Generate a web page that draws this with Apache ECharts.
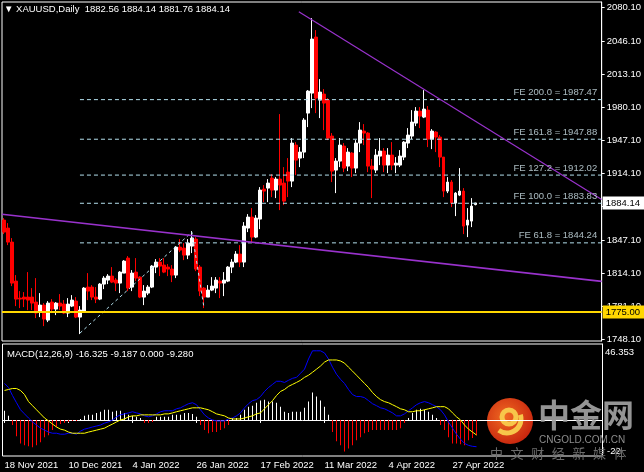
<!DOCTYPE html>
<html lang="en">
<head>
<meta charset="UTF-8" />
<title>XAUUSD Daily</title>
<script src="https://cdn.jsdelivr.net/npm/echarts@6/dist/echarts.min.js"></script>
<style>
  html, body { margin: 0; padding: 0; background: #000; }
  #chart { width: 644px; height: 472px; }
</style>
</head>
<body>
<div id="chart"></div>
<script>
// daily bars, 18 Nov 2021 .. 5 May 2022
const opens = [1867,1859,1845,1806,1789,1790,1790,1790,1785,1775,1782,1767,1785,1778,1784,1783,1774,1781,1786,1770,
  1776,1800,1800,1790,1788,1803,1807,1811,1807,1804,1814,1829,1800,1815,1810,1790,1794,1800,1820,1825,
  1822,1820,1818,1812,1840,1839,1832,1841,1848,1820,1799,1790,1797,1799,1806,1804,1806,1820,1825,1833,
  1825,1859,1870,1850,1868,1898,1899,1909,1897,1908,1904,1915,1906,1942,1929,1935,1974,1994,2050,1987,
  1993,1987,1951,1917,1926,1941,1921,1934,1919,1944,1956,1954,1921,1917,1931,1936,1922,1932,1922,1922,
  1930,1944,1951,1964,1976,1970,1977,1948,1955,1950,1930,1896,1905,1884,1892,1896,1862,1866,1882.56];
const highs = [1869,1864,1849,1812,1796,1795,1815,1799,1809,1794,1784,1786,1788,1785,1793,1787,1789,1792,1790,1781,
  1800,1814,1802,1800,1804,1811,1813,1820,1809,1816,1827,1831,1817,1829,1811,1802,1802,1822,1828,1829,
  1829,1823,1822,1841,1848,1844,1848,1856,1850,1822,1800,1802,1810,1810,1810,1815,1821,1828,1836,1842,
  1865,1873,1879,1872,1900,1902,1908,1913,1910,1973,1920,1929,1949,1945,1940,1969,1997,2069,2057,2008,
  1998,1989,1954,1929,1949,1944,1939,1935,1947,1965,1963,1955,1928,1938,1949,1939,1939,1945,1930,1937,
  1946,1959,1977,1980,1980,1997,1981,1958,1956,1952,1930,1910,1907,1895,1919,1899,1879,1889,1884.14];
const lows = [1853,1842,1801,1781,1779,1780,1777,1777,1769,1770,1761,1765,1774,1772,1777,1773,1770,1780,1769,1753,
  1776,1787,1787,1784,1787,1798,1803,1804,1796,1794,1814,1796,1796,1806,1789,1782,1792,1799,1814,1811,
  1814,1811,1805,1809,1835,1827,1828,1834,1816,1791,1779,1790,1796,1794,1789,1791,1805,1814,1824,1820,
  1820,1855,1845,1849,1858,1885,1885,1890,1889,1877,1882,1890,1900,1912,1920,1929,1960,1979,1974,1969,
  1957,1947,1905,1894,1920,1915,1916,1910,1914,1935,1942,1915,1889,1914,1922,1915,1914,1917,1914,1920,
  1927,1939,1948,1961,1959,1969,1940,1938,1935,1920,1890,1894,1880,1871,1891,1853,1850,1860,1881.76];
const closes = [1855,1845,1804,1788,1788,1788,1787,1784,1774,1782,1768,1784,1778,1784,1781,1774,1783,1787,1770,1777,
  1799,1796,1790,1788,1803,1809,1811,1805,1804,1815,1826,1799,1814,1809,1790,1796,1800,1821,1825,1821,
  1815,1818,1812,1840,1837,1832,1844,1849,1818,1796,1790,1797,1801,1807,1804,1807,1820,1825,1833,1825,
  1861,1870,1850,1869,1897,1896,1904,1897,1908,1902,1886,1906,1944,1927,1935,1967,1996,2048,1989,1995,
  1984,1949,1916,1926,1942,1919,1935,1919,1944,1957,1954,1921,1918,1932,1936,1922,1932,1922,1924,1931,
  1945,1952,1965,1976,1971,1978,1948,1956,1950,1930,1896,1905,1884,1894,1896,1861,1867,1881,1884.14];

// MACD(12,26,9) panel
const macdMain = [22.3,19.8,14.9,10.5,6.2,3.7,1.2,-1.2,-3.1,-5.0,-6.2,-7.4,-8.1,-8.1,-8.7,-8.7,-8.1,-8.1,-8.7,-6.8,
  -5.6,-5.0,-4.3,-3.7,-3.1,-1.9,-1.2,0,1.9,3.1,3.7,4.3,5.0,4.3,3.7,2.5,1.9,2.5,3.7,5.0,
  5.6,5.6,5.6,6.8,7.4,8.7,9.9,10.5,9.3,6.2,3.1,1.2,0,-0.6,-0.6,-0.6,0.6,1.2,2.5,4.3,
  7.4,9.9,11.8,12.4,14.3,17.4,19.8,21.7,23.6,23.6,22.9,24.2,25.4,26.0,28.5,31.0,37.2,42.2,42.2,42.2,
  40.9,37.2,32.2,27.9,24.8,22.3,18.6,15.5,14.3,14.3,13.6,11.8,9.9,8.7,7.4,6.8,5.6,4.3,2.5,2.5,
  3.7,5.6,7.4,9.3,10.5,11.2,10.5,9.3,8.1,6.2,3.1,-1.2,-5.0,-8.7,-11.8,-14.3,-15.5,-16.1,-16.325];
const macdSignal = [18.0,18.6,19.2,19.2,18.0,15.5,11.2,8.7,6.2,3.7,1.2,-0.6,-2.5,-4.3,-5.6,-6.2,-7.4,-8.1,-8.1,-8.1,
  -8.1,-7.4,-6.8,-6.2,-5.6,-5.0,-3.7,-2.5,-1.2,0,0.6,1.9,2.5,2.5,3.1,3.1,3.1,3.1,3.1,3.1,
  3.7,3.7,4.3,5.0,5.6,6.2,6.8,7.4,7.4,7.4,6.8,6.2,5.0,3.7,3.1,2.5,1.2,0.6,0.6,0.6,
  1.2,1.9,2.5,3.7,4.3,6.8,9.3,11.8,14.9,17.4,18.6,20.5,21.7,22.9,24.2,26.0,27.3,29.1,31.0,32.9,
  35.3,36.6,36.6,36.6,36.0,34.7,32.2,29.8,27.3,24.8,22.3,19.8,16.7,14.3,12.4,11.2,10.5,9.3,8.1,6.8,
  6.2,5.0,5.0,5.6,5.6,6.2,6.8,7.4,8.1,8.1,8.1,6.8,4.3,1.9,0,-3.1,-5.6,-7.4,-9.187];
const macdHist = [5.6,2.5,-3.1,-9.9,-14.3,-15.5,-16.1,-16.7,-15.5,-13.6,-10.5,-9.3,-6.2,-4.3,-2.5,-1.9,-1.2,-0.6,-0.6,0.6,
  2.5,3.1,3.1,4.3,5.0,6.2,6.2,5.0,5.6,5.6,4.3,3.1,2.5,1.9,1.2,-1.9,-1.9,-1.2,1.9,1.9,
  1.9,1.9,3.1,3.1,3.1,4.3,4.3,3.7,1.9,-3.1,-6.2,-8.1,-7.4,-7.4,-6.2,-5.0,-3.1,1.2,1.2,3.1,
  6.2,8.1,8.7,10.5,11.8,12.4,11.2,11.2,10.5,8.1,5.0,4.3,5.0,5.0,5.0,7.4,11.2,16.7,14.3,11.8,
  8.1,3.1,-7.4,-13.0,-15.5,-19.2,-17.4,-15.5,-12.4,-10.5,-8.1,-7.4,-6.2,-6.2,-6.2,-6.2,-6.2,-6.2,-6.2,-5.0,
  -1.9,1.2,4.3,6.2,6.8,6.2,5.0,3.1,1.2,-3.1,-6.2,-10.5,-14.3,-14.3,-14.9,-15.5,-12.4,-11.0,-9.28];

const priceTicks = [2080.1,2046.1,2013.1,1980.1,1947.1,1914.1,1881.1,1847.1,1814.1,1781.1,1748.1];
const macdMax = 46.353, macdMin = -22;
const dateTicks = {1:'18 Nov 2021',17:'10 Dec 2021',33:'4 Jan 2022',49:'26 Jan 2022',
  65:'17 Feb 2022',81:'11 Mar 2022',97:'4 Apr 2022',113:'27 Apr 2022'};

// drawing objects (bar number, price)
const feLevels = [['200.0',1987.47],['161.8',1947.88],['127.2',1912.02],['100.0',1883.83],['61.8',1844.24]];
const fePoints = [[20,1754],[48,1855],[51,1780]];
const trendLow = [[0.5,1872.9],[150.5,1805.7]];
const trendHigh = [[74.75,2075.4],[150.5,1887.6]];
const supportLevel = 1775.0;

const FONT = "'Liberation Sans', Arial, sans-serif";
const slots = Array.from({length: 150}, (_, i) => i + 1);
const last = opens.length - 1;
const candles = opens.map((o, i) => [o, closes[i], lows[i], highs[i]]);
const isDateTick = (idx) => dateTicks[idx + 1] !== undefined;
const txt = {color: '#fff', fontSize: 9.5, fontFamily: FONT};

const chart = echarts.init(document.getElementById('chart'));

const feSeries = feLevels.map(([pct, lvl]) => ({
  type: 'line', xAxisIndex: 1, yAxisIndex: 0, z: 3,
  data: [[fePoints[0][0], lvl], [150.5, lvl]],
  symbol: 'none',
  lineStyle: {color: '#b4e0ee', width: 1, type: [4, 3]}
}));

const feLabels = {
  type: 'scatter', xAxisIndex: 1, yAxisIndex: 0, z: 4,
  symbol: 'rect', symbolSize: 1,
  itemStyle: {color: 'transparent'},
  data: feLevels.map(([pct, lvl]) => ({
    value: [150.5, lvl],
    label: {
      show: true, position: 'left', distance: 4, offset: [0, -7],
      formatter: 'FE ' + pct + ' = ' + lvl.toFixed(2),
      color: '#d2e6ee', fontSize: 9.5, fontFamily: FONT
    }
  }))
};

const option = {
  backgroundColor: '#000',
  animation: false,
  title: [
    {
      text: '\u25BC XAUUSD,Daily  ' + [opens[last], highs[last], lows[last], closes[last]].map(v => v.toFixed(2)).join(' '),
      left: 4, top: 4, padding: 0,
      textStyle: Object.assign({fontWeight: 'normal'}, txt)
    },
    {
      text: 'MACD(12,26,9) ' + macdMain[last].toFixed(3) + ' ' + macdSignal[last].toFixed(3) + ' 0.000 ' + macdHist[last].toFixed(3),
      left: 7, top: 349, padding: 0,
      textStyle: Object.assign({fontWeight: 'normal'}, txt)
    },
    {text: String(macdMax), left: 605, top: 347, padding: 0, textStyle: Object.assign({fontWeight: 'normal'}, txt)},
    {text: String(macdMin), left: 607, top: 446, padding: 0, textStyle: Object.assign({fontWeight: 'normal'}, txt)}
  ],
  grid: [
    {left: 2, right: 42, top: 2, bottom: 131, show: true, borderColor: '#fff', borderWidth: 1, backgroundColor: '#000'},
    {left: 2.5, right: 41.5, top: 344, bottom: 16, show: true, borderColor: '#fff', borderWidth: 1, backgroundColor: '#000'}
  ],
  xAxis: [
    {type: 'category', gridIndex: 0, data: slots, boundaryGap: true, show: false},
    {type: 'value', gridIndex: 0, min: 0.5, max: 150.5, show: false},
    {
      type: 'category', gridIndex: 1, data: slots, boundaryGap: true,
      axisLine: {show: true, lineStyle: {color: '#fff'}},
      axisTick: {show: true, alignWithLabel: true, interval: isDateTick, length: 3, lineStyle: {color: '#fff'}},
      axisLabel: Object.assign({interval: isDateTick, formatter: (v) => dateTicks[v], align: 'left', margin: 4}, txt)
    }
  ],
  yAxis: [
    {
      type: 'value', gridIndex: 0, position: 'right', min: 1746.1, max: 2085.1,
      splitLine: {show: false},
      axisLine: {show: true, lineStyle: {color: '#fff'}},
      axisTick: {show: true, length: 3, customValues: priceTicks, lineStyle: {color: '#fff'}},
      axisLabel: Object.assign({customValues: priceTicks, formatter: (v) => v.toFixed(2), margin: 5, padding: [3, 0, 0, 0]}, txt)
    },
    {
      type: 'value', gridIndex: 1, position: 'right', min: macdMin, max: macdMax,
      splitLine: {show: false},
      axisLine: {show: true, lineStyle: {color: '#fff'}},
      axisTick: {show: false},
      axisLabel: {show: false}
    }
  ],
  series: [
    {
      type: 'candlestick', xAxisIndex: 0, yAxisIndex: 0, z: 2,
      data: candles, barWidth: 3,
      itemStyle: {color: '#fff', color0: '#ff0000', borderColor: '#fff', borderColor0: '#ff0000', borderWidth: 1},
      markLine: {
        silent: true, symbol: 'none', z: 5,
        data: [
          {
            yAxis: supportLevel,
            lineStyle: {color: '#ffd700', width: 2, type: 'solid'},
            label: Object.assign({show: true, position: 'end', distance: 1, formatter: supportLevel.toFixed(2),
              backgroundColor: '#ffd700', padding: [2, 5, 1, 3]}, txt, {color: '#000'})
          },
          {
            yAxis: closes[last],
            lineStyle: {color: 'rgba(0,0,0,0)', width: 1},
            label: Object.assign({show: true, position: 'end', distance: 1, formatter: closes[last].toFixed(2),
              backgroundColor: '#fff', padding: [2, 5, 1, 3]}, txt, {color: '#000'})
          }
        ]
      }
    },
    ...feSeries,
    feLabels,
    {
      type: 'line', xAxisIndex: 1, yAxisIndex: 0, z: 3, data: fePoints, symbol: 'none',
      lineStyle: {color: '#b4e0ee', width: 1, type: [3, 3]}
    },
    {
      type: 'line', xAxisIndex: 1, yAxisIndex: 0, z: 3, data: trendLow, symbol: 'none',
      lineStyle: {color: '#9932cc', width: 1.6}
    },
    {
      type: 'line', xAxisIndex: 1, yAxisIndex: 0, z: 3, data: trendHigh, symbol: 'none',
      lineStyle: {color: '#9932cc', width: 1.2}
    },
    {
      type: 'bar', xAxisIndex: 2, yAxisIndex: 1, data: macdHist, barWidth: 1,
      itemStyle: {color: (p) => p.value >= 0 ? '#fff' : '#ff0000'}
    },
    {
      type: 'line', xAxisIndex: 2, yAxisIndex: 1, data: macdMain, symbol: 'none',
      lineStyle: {color: '#0000ff', width: 1}
    },
    {
      type: 'line', xAxisIndex: 2, yAxisIndex: 1, data: macdSignal, symbol: 'none',
      lineStyle: {color: '#ffff00', width: 1}
    }
  ],
  graphic: [
    {
      type: 'group', left: 487, top: 398, z: 10, silent: true,
      children: [
        {type: 'circle', shape: {cx: 23, cy: 24, r: 23},
          style: {fill: new echarts.graphic.RadialGradient(0.4, 0.4, 0.7, [
            {offset: 0, color: '#f06a22'}, {offset: 1, color: '#c41f0c'}])}},
        {type: 'arc', shape: {cx: 22, cy: 20, r: 7, startAngle: 0, endAngle: Math.PI * 2},
          style: {stroke: '#f7c64a', lineWidth: 5, fill: 'none'}},
        {type: 'arc', shape: {cx: 20, cy: 22, r: 14, startAngle: -0.3, endAngle: 2.2},
          style: {stroke: '#f7c64a', lineWidth: 5, fill: 'none'}}
      ]
    },
    {type: 'text', left: 538, top: 399, z: 10, silent: true,
      style: {text: '中金网', fill: '#a4a4a4', opacity: 0.9, font: "bold 32px 'Noto Sans CJK SC'"}},
    {type: 'text', left: 539, top: 435, z: 10, silent: true,
      style: {text: 'CNGOLD.COM.CN', fill: '#8c8c8c', font: "10px 'Liberation Sans'"}},
    ...'中文财经新媒体'.split('').map((ch, i) => ({
      type: 'text', left: 490 + i * 20.6, top: 447, z: 10, silent: true,
      style: {text: ch, fill: '#6c6c6c', font: "13px 'Noto Sans CJK SC'"}
    }))
  ]
};

chart.setOption(option);
</script>
</body>
</html>
